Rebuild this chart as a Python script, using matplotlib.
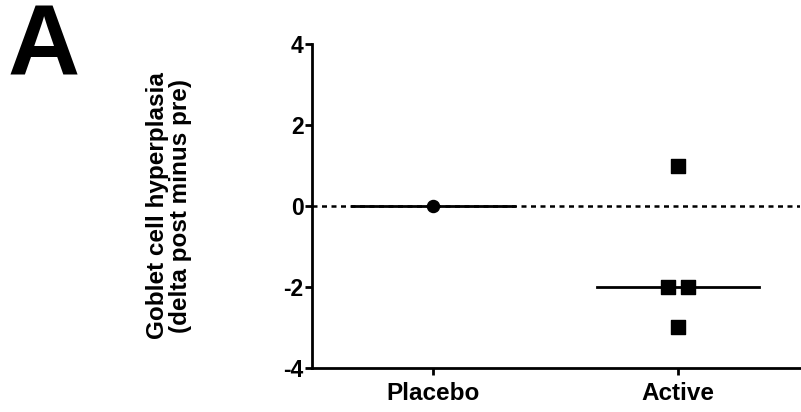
import numpy as np
import matplotlib.pyplot as plt

plt.rcParams['font.family'] = ['Liberation Sans', 'DejaVu Sans']
plt.rcParams['font.weight'] = 'bold'
plt.rcParams['axes.unicode_minus'] = False

# --- data ---
groups = ['Placebo', 'Active']
placebo = [0]
active = [1, -2, -2, -3]
# horizontal scatter offsets so tied points sit side by side
active_jitter = [0.0, -0.04, 0.04, 0.0]
yticks = [-4, -2, 0, 2, 4]

fig = plt.figure(figsize=(8.01, 4.12), dpi=100)
ax = fig.add_axes([0.3895, 0.1068, 0.6095, 0.7864])

# reference line at zero change
ax.axhline(0, color='black', lw=1.8, ls=(0, (2.0, 1.8)), zorder=1)

# medians
half = 0.33
for i, vals in enumerate([placebo, active]):
    med = np.median(vals)
    ax.plot([i - half, i + half], [med, med], color='black', lw=2.0, zorder=2)

ax.scatter(np.zeros(len(placebo)), placebo, marker='o', s=75, color='black', zorder=3)
ax.scatter(1 + np.array(active_jitter), active, marker='s', s=110, color='black', zorder=3)

ax.set_xlim(-0.494, 1.498)
ax.set_ylim(-4, 4)
ax.set_yticks(yticks)
ax.set_xticks([0, 1])
ax.set_xticklabels(groups)

for s in ['top', 'right']:
    ax.spines[s].set_visible(False)
for s in ['left', 'bottom']:
    ax.spines[s].set_linewidth(2.0)
ax.tick_params(axis='y', direction='out', length=5, width=2.0, labelsize=16.5, pad=1)
ax.tick_params(axis='x', direction='out', length=5, width=2.0, labelsize=17.5, pad=5)
for lab in ax.get_xticklabels() + ax.get_yticklabels():
    lab.set_fontweight('bold')

ax.set_ylabel('Goblet cell hyperplasia\n(delta post minus pre)', fontsize=17.5,
              fontweight='bold', linespacing=1.0)
ax.yaxis.set_label_coords(-0.246, 0.5)

fig.text(0.010, 0.993, 'A', fontsize=72, fontweight='bold', va='top', ha='left')

fig.savefig('out.png', dpi=100)
